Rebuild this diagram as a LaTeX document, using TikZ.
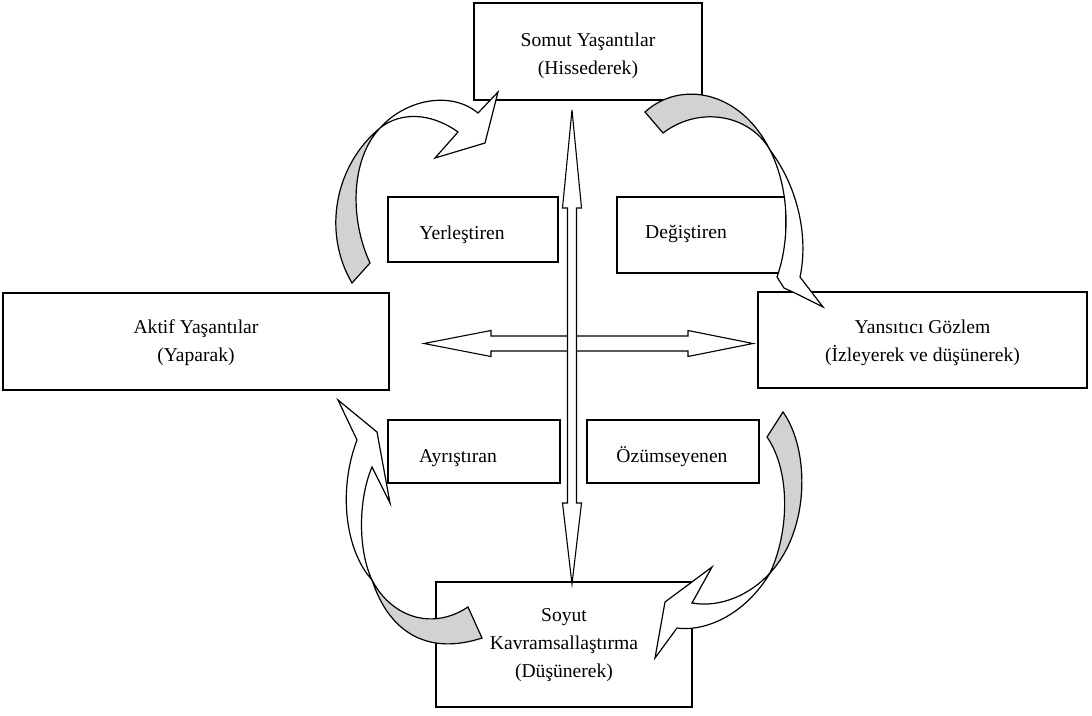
\documentclass[tikz,border=0pt]{standalone}
\usepackage{fontspec}
\setmainfont{Liberation Serif}
\definecolor{sidegray}{RGB}{210,210,210}
\begin{document}
\begin{tikzpicture}[x=1pt,y=-1pt,
  panel/.style={draw, line width=2.8pt, rectangle, inner sep=0pt, fill=white},
  txt/.style={inner sep=0pt, align=center, font=\fontsize{19.6}{28}\selectfont},
  frontside/.style={draw, line width=1.2pt, fill=white, line join=miter},
  backside/.style={frontside, fill=sidegray},
  dblarrow/.style={draw, line width=1.1pt, fill=white, line join=miter}]
\fill[white] (0,0) rectangle (1092,715);
\useasboundingbox (0,0) rectangle (1092,715);

% boxes
\node[panel, minimum width=228pt, minimum height=97pt]  (somutBox) at (588,51.5) {};
\node[panel, minimum width=386pt, minimum height=97pt]  (aktifBox) at (196,341.5) {};
\node[panel, minimum width=329pt, minimum height=96pt]  (yansBox)  at (922.5,340) {};
\node[panel, minimum width=256pt, minimum height=125pt] (soyutBox) at (564,644.5) {};
\node[panel, minimum width=170pt, minimum height=65pt]  (yerBox)   at (473,229.5) {};
\node[panel, minimum width=169pt, minimum height=76pt]  (degBox)   at (701.5,235) {};
\node[panel, minimum width=172pt, minimum height=63pt]  (ayrBox)   at (474,451.5) {};
\node[panel, minimum width=172pt, minimum height=63pt]  (ozuBox)   at (673,451.5) {};

% texts
\node[txt] (somut) at (588,56) {Somut Yaşantılar\\(Hissederek)};
\node[txt] (aktif) at (196,343) {Aktif Yaşantılar\\(Yaparak)};
\node[txt] (yans) at (922.5,343) {Yansıtıcı Gözlem\\(İzleyerek ve düşünerek)};
\node[txt] (soyut) at (564,645) {Soyut\\Kavramsallaştırma\\(Düşünerek)};
\node[txt, anchor=base] (yer) at (462,239) {Yerleştiren};
\node[txt, anchor=base] (deg) at (686,238) {Değiştiren};
\node[txt, anchor=base] (ayr) at (458,462) {Ayrıştıran};
\node[txt, anchor=base] (ozu) at (672,462) {Özümseyenen};

% horizontal double arrow
\coordinate (hL) at (424,343.5);
\coordinate (hR) at (753,343.5);
\draw[dblarrow] (hL) -- (491,330.5) -- (491,336) -- (688,336) -- (688,330.5)
  -- (hR) -- (688,356.5) -- (688,351) -- (491,351) -- (491,356.5) -- cycle;

% vertical double arrow
\coordinate (vT) at (572,110);
\coordinate (vB) at (572,584);
\draw[dblarrow] (vT) -- (581.5,208) -- (576.5,208) -- (576.5,503) -- (581.5,503)
  -- (vB) -- (562.5,503) -- (567.5,503) -- (567.5,208) -- (562.5,208) -- cycle;

% top-left curved arrow
\draw[backside] (352,283) -- (370,263) .. controls (350,220) and (350,160) .. (380,128)
  .. controls (335,165) and (322,232) .. (352,283) -- cycle;
\draw[frontside] (380,128) .. controls (405,100) and (450,90) .. (478,113) -- (498,92)
  -- (485,143) -- (435,158) -- (458,132) .. controls (430,112) and (400,112) .. (380,128) -- cycle;

% top-right curved arrow
\draw[backside] (645,112) .. controls (680,80) and (740,90) .. (770,150)
  .. controls (750,115) and (700,105) .. (663,133) -- cycle;
\draw[frontside] (770,150) .. controls (800,190) and (808,240) .. (800,277) -- (823,307)
  -- (797,294) -- (784,288) -- (777,277) .. controls (790,240) and (790,190) .. (770,150) -- cycle;

% bottom-right curved arrow
\draw[backside] (783,412) .. controls (810,450) and (810,530) .. (770,573)
  .. controls (790,530) and (790,470) .. (767,437) -- cycle;
\draw[frontside] (770,573) .. controls (745,615) and (705,632) .. (677,628) -- (655,658)
  -- (665,602) -- (712,567) -- (692,603) .. controls (720,608) and (750,595) .. (770,573) -- cycle;

% bottom-left curved arrow
\draw[frontside] (357,440) -- (338,400) -- (377,432) -- (390,503) -- (372,467)
  .. controls (358,500) and (358,550) .. (372,580) .. controls (345,550) and (338,490) .. (357,440) -- cycle;
\draw[backside] (372,580) .. controls (390,615) and (430,632) .. (468,607) -- (482,638)
  .. controls (430,655) and (390,635) .. (372,580) -- cycle;
\end{tikzpicture}
\end{document}
